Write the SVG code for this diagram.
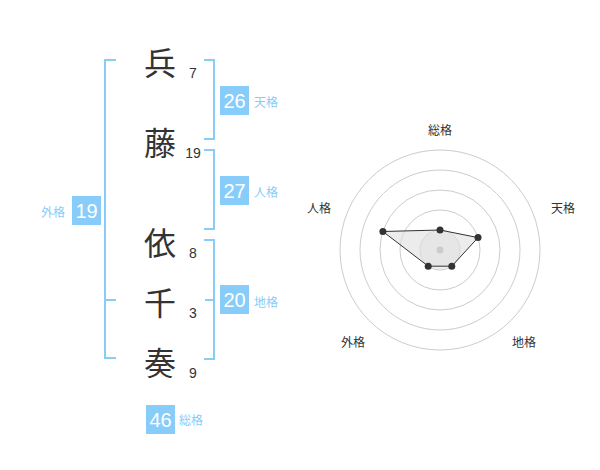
<svg xmlns="http://www.w3.org/2000/svg" width="600" height="470" viewBox="0 0 600 470">
<style>
.k{font-family:"Noto Sans CJK JP","Noto Sans CJK SC",sans-serif;font-size:32px;fill:#333;text-anchor:middle}
.n{font-family:"Liberation Sans",Arial,sans-serif;font-size:14px;fill:#333;text-anchor:middle}
.br{fill:none;stroke:#88ccfa;stroke-width:2}
.box{fill:#88ccfa}
.bt{font-family:"Liberation Sans",Arial,sans-serif;font-size:20px;fill:#fff;text-anchor:middle}
.lb{font-family:"Noto Sans CJK JP","Noto Sans CJK SC",sans-serif;font-size:12px;fill:#88ccfa}
.rl{font-family:"Noto Sans CJK JP","Noto Sans CJK SC",sans-serif;font-size:12px;fill:#333;text-anchor:middle}
.ring{fill:none;stroke:#cccccc;stroke-width:1}
.pt{fill:#333}
</style>
<rect width="600" height="470" fill="#fff"/>
<g id="chars">
<g id="c1"><text class="k" x="160" y="75">兵</text><text class="n" x="193" y="78">7</text></g>
<g id="c2"><text class="k" x="160" y="155">藤</text><text class="n" x="193" y="158">19</text></g>
<g id="c3"><text class="k" x="160" y="255">依</text><text class="n" x="193" y="258">8</text></g>
<g id="c4"><text class="k" x="160" y="315">千</text><text class="n" x="193" y="318">3</text></g>
<g id="c5"><text class="k" x="160" y="375">奏</text><text class="n" x="193" y="378">9</text></g>
</g>
<g id="brackets">
<path class="br" d="M116,60 H105 V358 H116 M105,300 H116"/>
<path class="br" d="M204,60 H214 V139 H204"/>
<path class="br" d="M204,150 H214 V229 H204"/>
<path class="br" d="M204,240 H214 V359 H204 M205,300 H214"/>
</g>
<g id="tenkaku"><rect class="box" x="220" y="86" width="29" height="29"/><text class="bt" x="234.5" y="107.5">26</text><text class="lb" x="254" y="107">天格</text></g>
<g id="jinkaku"><rect class="box" x="220" y="176" width="29" height="29"/><text class="bt" x="234.5" y="197.5">27</text><text class="lb" x="254" y="197">人格</text></g>
<g id="chikaku"><rect class="box" x="220" y="285" width="29" height="29"/><text class="bt" x="234.5" y="306.5">20</text><text class="lb" x="254" y="307">地格</text></g>
<g id="gaikaku"><rect class="box" x="72" y="196" width="29" height="29"/><text class="bt" x="86.5" y="217.5">19</text><text class="lb" x="41" y="217">外格</text></g>
<g id="soukaku"><rect class="box" x="146" y="405" width="29" height="29"/><text class="bt" x="160.5" y="426.5">46</text><text class="lb" x="179" y="425">総格</text></g>
<g id="radar">
<circle cx="440" cy="250" r="20" fill="#f0f0f0" stroke="#cccccc"/>
<circle class="ring" cx="440" cy="250" r="40"/>
<circle class="ring" cx="440" cy="250" r="60"/>
<circle class="ring" cx="440" cy="250" r="80"/>
<circle class="ring" cx="440" cy="250" r="100"/>
<polygon points="440,230 478,237.6 451.8,266.2 428.2,266.2 382.9,231.5" fill="#e0e0e0" fill-opacity="0.6" stroke="#333" stroke-width="1"/>
<circle cx="440" cy="250" r="3.5" fill="#cccccc"/>
<circle class="pt" cx="440" cy="230" r="3.5"/>
<circle class="pt" cx="478" cy="237.6" r="3.5"/>
<circle class="pt" cx="451.8" cy="266.2" r="3.5"/>
<circle class="pt" cx="428.2" cy="266.2" r="3.5"/>
<circle class="pt" cx="382.9" cy="231.5" r="3.5"/>
<text class="rl" x="440" y="135">総格</text>
<text class="rl" x="563" y="213">天格</text>
<text class="rl" x="524" y="347">地格</text>
<text class="rl" x="353" y="347">外格</text>
<text class="rl" x="319" y="213">人格</text>
</g>
</svg>
